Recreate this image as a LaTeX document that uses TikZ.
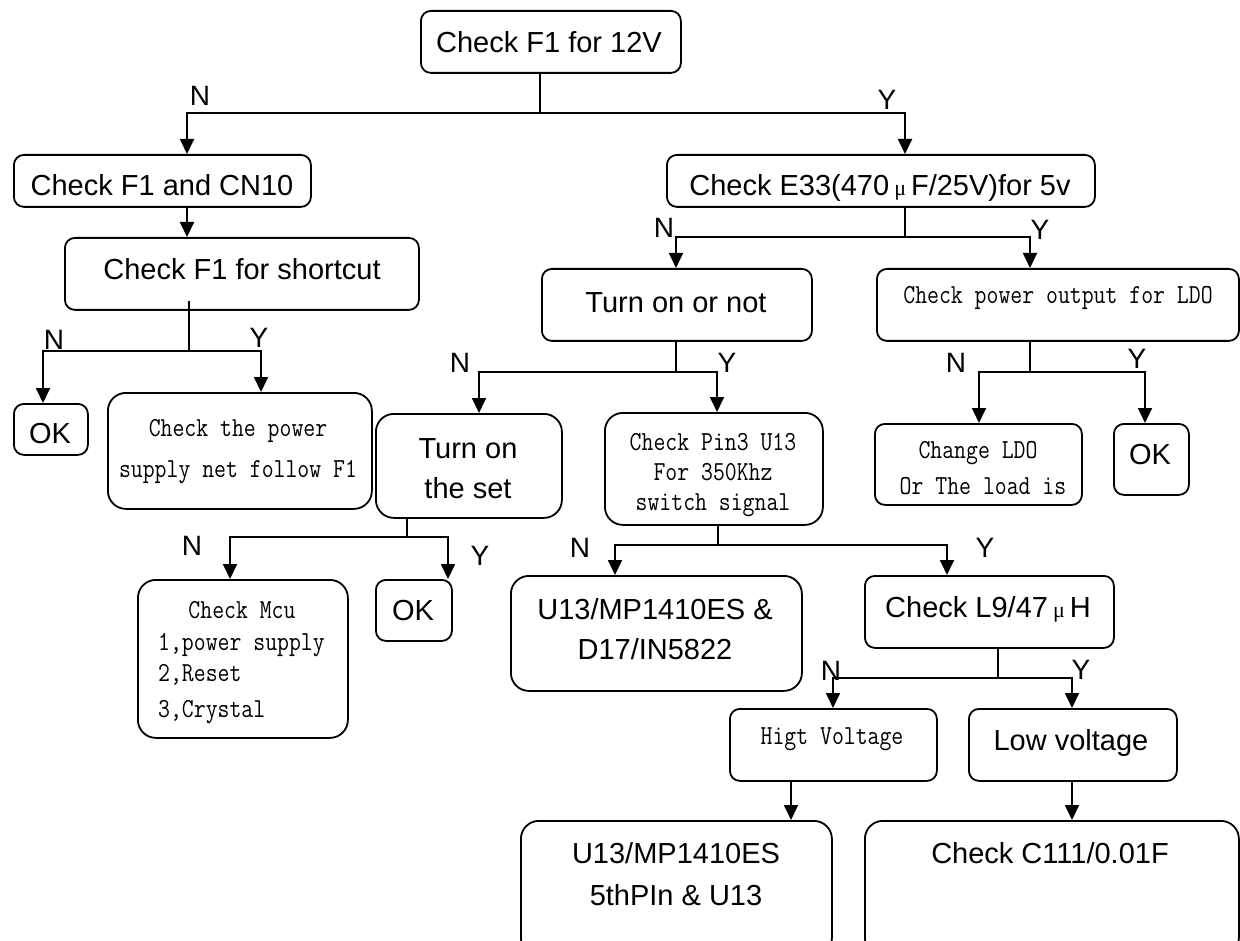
\documentclass[tikz,border=0pt]{standalone}
\usepackage{fontspec}
\setmainfont{Liberation Sans}
\newfontfamily\monof[FakeStretch=0.84]{Latin Modern Mono}
\newfontfamily\muf{Liberation Serif}
\usetikzlibrary{arrows.meta}
\begin{document}
\begin{tikzpicture}[x=1pt,y=-1pt,
  box/.style={draw, line width=1.8pt, rounded corners=10pt, inner sep=0pt, anchor=north west},
  bigbox/.style={box, rounded corners=18pt},
  txt/.style={font=\fontsize{29}{34}\selectfont, inner sep=0pt, text height=21pt, text depth=0pt},
  mtxt/.style={font=\monof\fontsize{27.5}{31}\selectfont, inner sep=0pt, text height=17pt, text depth=0pt},
  lbl/.style={font=\fontsize{28}{32}\selectfont, inner sep=0pt, text height=20pt, text depth=0pt},
  conn/.style={line width=1.8pt},
  arr/.style={line width=1.8pt, -{Triangle[length=15pt,width=14pt]}}]
\useasboundingbox (0,0) rectangle (1240,941);
\clip (0,0) rectangle (1240,941);

% boxes
\node[box, minimum width=260pt, minimum height=62pt] (t) at (420,10) {};
\node[box, minimum width=297pt, minimum height=52pt] (cn10) at (13,154) {};
\node[box, minimum width=354pt, minimum height=72pt] (sc) at (64,237) {};
\node[box, minimum width=74pt, minimum height=51pt] (ok1) at (13,403) {};
\node[bigbox, minimum width=264pt, minimum height=116pt] (pw) at (107,392) {};
\node[box, minimum width=428pt, minimum height=52pt] (e33) at (666,154) {};
\node[box, minimum width=270pt, minimum height=72pt] (ton) at (541,268) {};
\node[box, minimum width=362pt, minimum height=72pt] (ldo) at (876,268) {};
\node[bigbox, minimum width=186pt, minimum height=104pt] (set) at (375,413) {};
\node[bigbox, minimum width=218pt, minimum height=112pt] (pin3) at (604,412) {};
\node[box, minimum width=207pt, minimum height=81pt] (chg) at (874,423) {};
\node[box, minimum width=75pt, minimum height=71pt] (ok3) at (1113,423) {};
\node[bigbox, minimum width=210pt, minimum height=158pt] (mcu) at (137,579) {};
\node[box, minimum width=76pt, minimum height=61pt] (ok2) at (375,579) {};
\node[bigbox, minimum width=291pt, minimum height=115pt] (u13a) at (510,575) {};
\node[box, minimum width=249pt, minimum height=72pt] (l9) at (864,575) {};
\node[box, minimum width=207pt, minimum height=72pt] (hv) at (729,708) {};
\node[box, minimum width=208pt, minimum height=72pt] (lv) at (968,708) {};
\node[bigbox, minimum width=311pt, minimum height=135pt] (u13b) at (520,820) {};
\node[bigbox, minimum width=374pt, minimum height=135pt] (c111) at (864,820) {};

% texts
\node[txt] (tt) at (549,42) {Check F1 for 12V};
\node[txt] (tcn10) at (162,185) {Check F1 and CN10};
\node[txt] (tsc) at (242,269) {Check F1 for shortcut};
\node[txt] (tok1) at (50,433) {OK};
\node[mtxt] (tpw1) at (238,428) {Check the power};
\node[mtxt] (tpw2) at (238,469) {supply net follow F1};
\node[txt] (te33) at (880,185) {Check E33(470\hspace{5pt}{\muf\fontsize{22}{26}\selectfont μ}\hspace{5pt}F/25V)for 5v};
\node[txt] (tton) at (676,302) {Turn on or not};
\node[mtxt] (tldo) at (1058,295) {Check power output for LDO};
\node[txt] (tset1) at (468,448) {Turn on};
\node[txt] (tset2) at (468,488) {the set};
\node[mtxt] (tpin1) at (713,442) {Check Pin3 U13};
\node[mtxt] (tpin2) at (713,472) {For 350Khz};
\node[mtxt] (tpin3) at (713,502) {switch signal};
\node[mtxt] (tchg1) at (978,450) {Change LDO};
\node[mtxt] (tchg2) at (983,486) {Or The load is};
\node[txt] (tok3) at (1150,454) {OK};
\node[mtxt] (tmcu1) at (242,610) {Check Mcu};
\node[mtxt, anchor=west] (tmcu2) at (158,642) {1,power supply};
\node[mtxt, anchor=west] (tmcu3) at (158,673) {2,Reset};
\node[mtxt, anchor=west] (tmcu4) at (158,709) {3,Crystal};
\node[txt] (tok2) at (413,610) {OK};
\node[txt] (tu13a1) at (655,609) {U13/MP1410ES \&};
\node[txt] (tu13a2) at (655,649) {D17/IN5822};
\node[txt] (tl9) at (988,607) {Check L9/47\hspace{5pt}{\muf\fontsize{22}{26}\selectfont μ}\hspace{5pt}H};
\node[mtxt] (thv) at (832,736) {Higt Voltage};
\node[txt] (tlv) at (1071,740) {Low voltage};
\node[txt] (tu13b1) at (676,853) {U13/MP1410ES};
\node[txt] (tu13b2) at (676,895) {5thPIn \& U13};
\node[txt] (tc111) at (1050,853) {Check C111/0.01F};

% junctions
\coordinate (j1) at (540,113);
\coordinate (j2) at (189,351);
\coordinate (j3) at (905,237);
\coordinate (j4) at (676,372);
\coordinate (j5) at (1030,372);
\coordinate (j6) at (407,537);
\coordinate (j7) at (718,545);
\coordinate (j8) at (998,678);

% connectors
\draw[conn] (j1 |- t.south) -- (j1);
\draw[arr] (j1) -| ([xshift=174pt]cn10.north west);
\draw[arr] (j1) -| ([xshift=239pt]e33.north west);

\draw[arr] ([xshift=174pt]cn10.south west) -- ([xshift=123pt]sc.north west);

\draw[conn] (j2 |- sc.south) ++(0,-10) -- (j2);
\draw[arr] (j2) -| ([xshift=30pt]ok1.north west);
\draw[arr] (j2) -| ([xshift=154pt]pw.north west);

\draw[conn] (j3 |- e33.south) -- (j3);
\draw[arr] (j3) -| ([xshift=135pt]ton.north west);
\draw[arr] (j3) -| ([xshift=154pt]ldo.north west);

\draw[conn] (j4 |- ton.south) -- (j4);
\draw[arr] (j4) -| ([xshift=104pt]set.north west);
\draw[arr] (j4) -| ([xshift=113pt]pin3.north west);

\draw[conn] (j5 |- ldo.south) -- (j5);
\draw[arr] (j5) -| ([xshift=105pt]chg.north west);
\draw[arr] (j5) -| ([xshift=32pt]ok3.north west);

\draw[conn] (j6 |- set.south) -- (j6);
\draw[arr] (j6) -| ([xshift=93pt]mcu.north west);
\draw[arr] (j6) -| ([xshift=73pt]ok2.north west);

\draw[conn] (j7 |- pin3.south) -- (j7);
\draw[arr] (j7) -| ([xshift=105pt]u13a.north west);
\draw[arr] (j7) -| ([xshift=83pt]l9.north west);

\draw[conn] (j8 |- l9.south) -- (j8);
\draw[arr] (j8) -| ([xshift=104pt]hv.north west);
\draw[arr] (j8) -| ([xshift=104pt]lv.north west);

\draw[arr] ([xshift=62pt]hv.south west) -- ([xshift=271pt]u13b.north west);
\draw[arr] ([xshift=104pt]lv.south west) -- ([xshift=208pt]c111.north west);

% labels
\node[lbl] (n1) at (200,96) {N};
\node[lbl] (y1) at (887,100) {Y};
\node[lbl] (n2) at (54,340) {N};
\node[lbl] (y2) at (259,338) {Y};
\node[lbl] (n3) at (664,228) {N};
\node[lbl] (y3) at (1040,230) {Y};
\node[lbl] (n4) at (460,363) {N};
\node[lbl] (y4) at (727,363) {Y};
\node[lbl] (n5) at (956,363) {N};
\node[lbl] (y5) at (1137,358) {Y};
\node[lbl] (n6) at (192,545) {N};
\node[lbl] (y6) at (480,555) {Y};
\node[lbl] (n7) at (580,547) {N};
\node[lbl] (y7) at (985,547) {Y};
\node[lbl] (n8) at (831,670) {N};
\node[lbl] (y8) at (1081,669) {Y};
\end{tikzpicture}
\end{document}
